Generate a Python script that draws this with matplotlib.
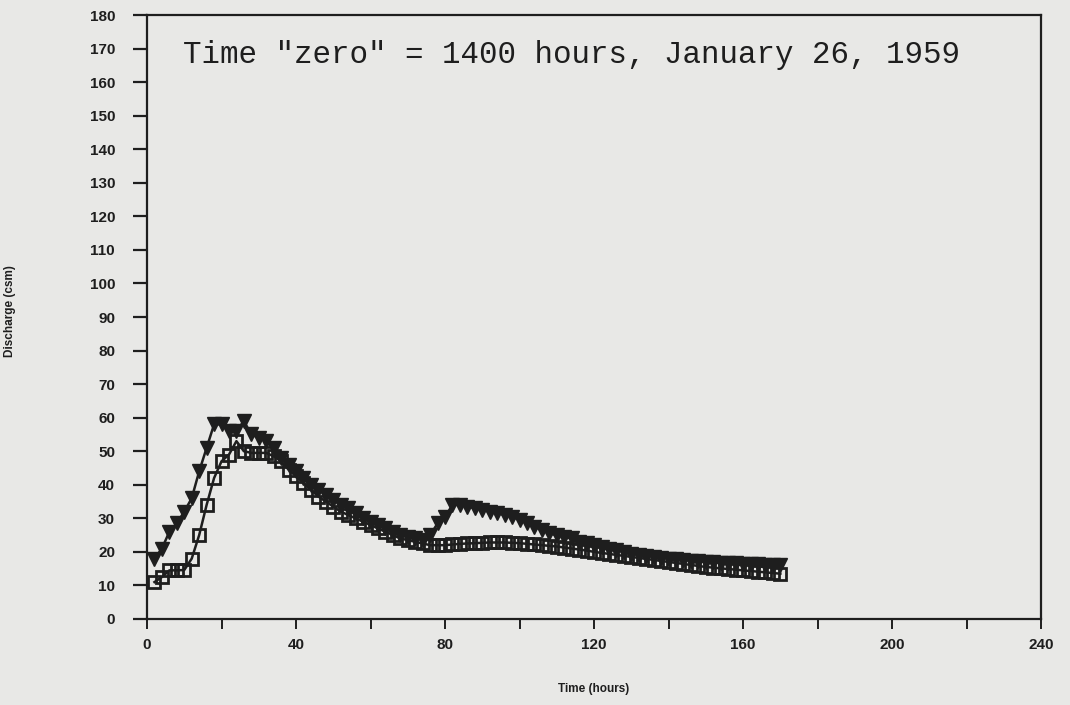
import matplotlib
matplotlib.use("Agg")
import matplotlib.pyplot as plt

# Discharge records, sampled every 2 hours after time zero
hours = list(range(2, 172, 2))

discharge_tri = [
    18, 21, 26, 28.5, 32, 36, 44, 51, 58, 58,
    56, 56, 59, 55, 54, 53, 51, 48, 46, 44,
    42, 40, 38.5, 37, 35.5, 34, 33, 31.5, 30, 29,
    28, 27, 26, 25, 24.5, 24, 23.5, 25, 28.5, 30.5,
    34, 34, 33.5, 33, 32.5, 32, 31.5, 31, 30.5, 29.5,
    28.5, 27.5, 26.5, 25.5, 25, 24.5, 24, 23, 22.5, 22,
    21.5, 21, 20.5, 20, 19.5, 19, 18.8, 18.5, 18.2, 18,
    17.8, 17.6, 17.4, 17.2, 17, 16.9, 16.8, 16.7, 16.6, 16.5,
    16.4, 16.3, 16.2, 16.1, 16,
]

discharge_sq = [
    11, 12.5, 14.5, 14.5, 14.6, 18, 25, 34, 42, 47,
    49, 53, 50, 49.5, 49.5, 49.5, 48.5, 47, 44.5, 42.5,
    40.5, 38.5, 36.5, 35, 33.5, 32, 31, 30, 29, 28,
    27, 26, 25, 24, 23.5, 23, 22.5, 22, 22, 22,
    22.2, 22.4, 22.5, 22.6, 22.7, 22.8, 22.8, 22.8, 22.7, 22.6,
    22.4, 22.2, 22, 21.8, 21.6, 21.3, 21, 20.7, 20.4, 20,
    19.7, 19.4, 19.1, 18.8, 18.5, 18.2, 17.9, 17.6, 17.3, 17,
    16.7, 16.4, 16.1, 15.8, 15.5, 15.3, 15.1, 14.9, 14.7, 14.5,
    14.3, 14.1, 13.9, 13.7, 13.5,
]

x_ticks = list(range(0, 260, 20))
x_labels = [str(v) if v % 40 == 0 else "" for v in x_ticks]
y_ticks = list(range(0, 190, 10))

PAPER = "#e8e8e6"
INK = "#1e1e1e"

fig = plt.figure(figsize=(10.7, 7.05), dpi=100, facecolor=PAPER)
ax = fig.add_axes([0.1374, 0.122, 0.8356, 0.8567], facecolor=PAPER)

ax.plot(hours, discharge_tri, color=INK, lw=1.8, marker="v", ms=10,
        mfc=INK, mec=INK, zorder=3)
ax.plot(hours, discharge_sq, color=INK, lw=1.8, marker="s", ms=8,
        mfc="none", mec=INK, mew=2.0, zorder=3)

ax.set_xlim(0, 240)
ax.set_ylim(0, 180)
ax.set_xticks(x_ticks, x_labels)
ax.set_yticks(y_ticks)

for s in ax.spines.values():
    s.set_color(INK)
    s.set_linewidth(1.6)

ax.tick_params(axis="y", direction="out", length=10, width=1.6, pad=13,
               colors=INK, labelsize=11)
ax.tick_params(axis="x", direction="out", length=7, width=1.4, pad=7,
               colors=INK, labelsize=11)
for lab in ax.get_xticklabels() + ax.get_yticklabels():
    lab.set_fontweight("bold")
    lab.set_family("Liberation Sans")

ax.set_xlabel("Time (hours)", fontsize=8.5, fontweight="bold",
              family="Liberation Sans", labelpad=22, color=INK)
ax.set_ylabel("Discharge (csm)", fontsize=8.5, fontweight="bold",
              family="Liberation Sans", color=INK)
ax.yaxis.set_label_coords(-0.147, 0.51)

ax.text(0.040, 0.934, 'Time "zero" = 1400 hours, January 26, 1959',
        transform=ax.transAxes, family="Liberation Mono", fontsize=22.2,
        va="center", ha="left", color=INK)

fig.savefig("out.png", dpi=100, facecolor=PAPER)
